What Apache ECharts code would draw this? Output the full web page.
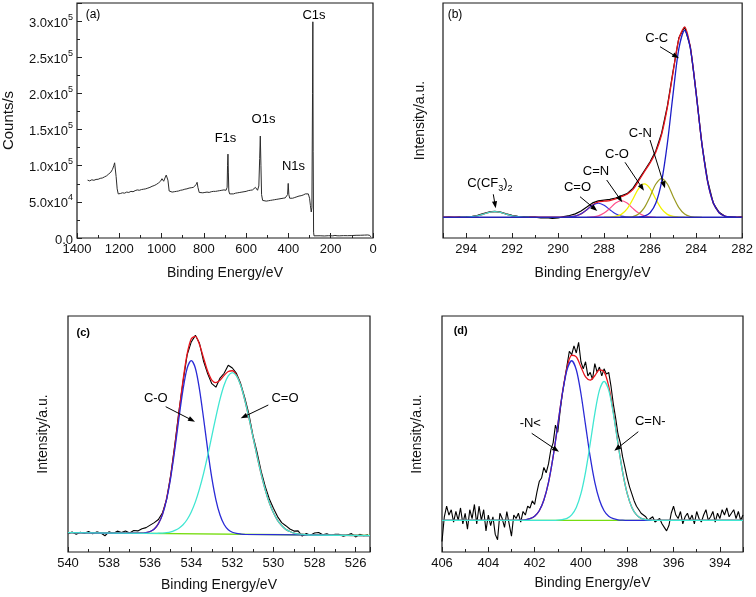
<!DOCTYPE html>
<html><head><meta charset="utf-8">
<script src="https://cdn.jsdelivr.net/npm/echarts@6/dist/echarts.min.js"></script>
<style>html,body{margin:0;padding:0;background:#fff}#chart{width:756px;height:597px}</style>
</head><body><div id="chart"></div>
<script>
// ---------- (a) survey spectrum ----------
const surveyEnergy = [1350,1340,1330,1320,1310,1300,1290,1280,1270,1260,1250,1240,1232,1226,1222,1219,1215,1210,1205,1195,1185,1175,1165,1155,1145,1135,1125,1115,1105,1095,1085,1075,1065,1055,1045,1035,1025,1015,1005,998,994,990,984,978,974,970,964,958,950,940,930,920,910,900,890,880,870,860,850,842,836,832,828,822,815,805,795,785,775,765,755,745,735,725,715,705,695,690,688,686,684,682,678,670,660,650,640,630,620,610,600,590,580,570,562,556,552,546,540,536,533,530,527,522,515,505,495,485,475,465,455,445,435,425,415,408,404,401,398,394,388,380,370,360,350,340,330,320,312,306,300,296,292,289,286,284.5,283,281,279,270,250,230,210,190,180,170,160,140,120,100,80,60,40,25,15,10];
const surveyCounts = [80000,79000,80500,79800,81000,81200,82500,83000,84500,86000,88500,91000,95000,100000,104000,103000,85000,68000,61000,61500,62500,62000,63500,63000,64500,64000,65500,66500,66000,67000,67500,68000,69000,70000,71500,72500,74000,76000,78500,82000,79500,78500,83000,87000,88000,80000,65000,63000,63500,64000,64500,65000,66000,66500,67500,68000,69000,69500,70000,71000,74000,77000,70000,63000,62000,62500,63000,63500,63000,64000,64500,64500,65000,65500,66000,66500,66000,70000,100000,116000,90000,65000,61000,60500,61000,62000,62500,63000,63500,64000,64500,65500,66000,66500,68000,70000,68000,66000,72000,110000,141000,100000,60000,52000,51500,51000,51500,52000,52500,53000,53500,54000,54500,55000,55500,56000,60000,75500,60000,55000,54500,55000,56000,57000,58000,58500,59500,61000,62000,61000,55000,45000,36000,42000,200000,299000,120000,8000,3000,2900,3100,2800,3200,3000,3600,3100,3000,3300,3200,3400,3700,3800,4000,4200,3600,1500];
const surveyYTicks = [0,50000,100000,150000,200000,250000,300000];
const surveyYLabels = ['0.0','5.0x10^4','1.0x10^5','1.5x10^5','2.0x10^5','2.5x10^5','3.0x10^5'];

// ---------- (b) C1s ----------
const c1sEnergy = [295,294.75,294.5,294.25,294,293.75,293.5,293.25,293,292.75,292.5,292.25,292,291.75,291.5,291.25,291,290.75,290.5,290.25,290,289.75,289.5,289.25,289,288.75,288.5,288.25,288,287.75,287.5,287.25,287,286.75,286.5,286.25,286,285.75,285.5,285.25,285,284.75,284.5,284.25,284,283.75,283.5,283.25,283,282.75,282.5,282.25,282];
const c1sRaw = [0,0.1,-0.1,0.1,0.2,0.4,1.0,1.9,2.8,3.1,2.7,1.8,1.0,0.5,0.4,0.2,0.1,-0.3,-0.2,-0.6,-0.4,0.3,0.9,1.8,3.3,5.4,7.6,8.7,9.1,9.5,10.2,11.4,12.5,15.3,19.9,24.6,29.4,35.2,44.5,58.9,77.6,95.1,100.8,90.3,66.2,38.6,19.3,7.2,2.6,0.5,0.2,-0.1,0.2];
const c1sEnvelope = [0,0,0,0,0.1,0.3,0.7,1.6,2.6,3.0,2.6,1.6,0.7,0.3,0.1,0,0,0,0,0,0,0,0.2,0.6,1.8,4.0,6.5,8.1,8.5,8.8,9.7,10.9,12.2,14.6,19.2,24.1,28.8,34.6,43.8,58.2,76.9,94.5,100.7,89.7,65.6,39.1,18.9,7.5,2.4,0.6,0.1,0,0];
const ccEnergy = [286.75,286.5,286.25,286,285.75,285.5,285.25,285,284.75,284.5,284.25,284,283.75,283.5,283.25,283,282.75,282.5,282.25];
const ccValues = [0,0.1,0.6,2.4,7.5,18.9,39.1,65.5,89.3,99,89.3,65.5,39.1,18.9,7.5,2.4,0.6,0.1,0];
const cnEnergy = [287.25,287,286.75,286.5,286.25,286,285.75,285.5,285.25,285,284.75,284.5,284.25,284,283.75];
const cnValues = [0,0.1,0.4,1.7,5.1,11.0,17.6,20.5,17.6,11.0,5.1,1.7,0.4,0.1,0];
const coEnergy = [288,287.75,287.5,287.25,287,286.75,286.5,286.25,286,285.75,285.5,285.25,285,284.75,284.5];
const coValues = [0,0.1,0.4,1.5,4.4,9.5,15.2,17.7,15.2,9.5,4.4,1.5,0.4,0.1,0];
const cdnEnergy = [288.75,288.5,288.25,288,287.75,287.5,287.25,287,286.75,286.5,286.25,286,285.75];
const cdnValues = [0,0.2,0.7,2.2,4.7,7.5,8.8,7.5,4.7,2.2,0.7,0.2,0];
const cdoEnergy = [289.75,289.5,289.25,289,288.75,288.5,288.25,288,287.75,287.5,287.25,287,286.75];
const cdoValues = [0,0.2,0.6,1.8,4.0,6.3,7.4,6.3,4.0,1.8,0.6,0.2,0];
const cf3Energy = [294.25,294,293.75,293.5,293.25,293,292.75,292.5,292.25,292,291.75,291.5,291.25];
const cf3Values = [0,0.1,0.3,0.7,1.6,2.6,3.0,2.6,1.6,0.7,0.3,0.1,0];
const c1sBaseEnergy = [295,282];
const c1sBaseValues = [0,0];

// ---------- (c) O1s ----------
const o1sEnergy = [540,539.8,539.6,539.4,539.2,539,538.8,538.6,538.4,538.2,538,537.8,537.6,537.4,537.2,537,536.8,536.6,536.4,536.2,536,535.8,535.6,535.4,535.2,535,534.8,534.6,534.4,534.2,534,533.8,533.6,533.4,533.2,533,532.8,532.6,532.4,532.2,532,531.8,531.6,531.4,531.2,531,530.8,530.6,530.4,530.2,530,529.8,529.6,529.4,529.2,529,528.8,528.6,528.4,528.2,528,527.8,527.6,527.4,527.2,527,526.8,526.6,526.4,526.2,526,525.8,525.6,525.4];
const o1sRaw = [-0.5,0.3,-0.8,0.2,-0.3,0.6,-0.6,0.4,-0.2,-1.6,0.5,-0.4,0.8,0.1,0.9,-0.2,1.1,0.9,2.0,2.6,3.9,5.2,6.8,10.3,17.2,29.8,45.5,62.9,78.1,91.9,98.6,102.0,97.9,88.6,82.1,77.0,75.2,79.9,82.4,86.5,85.1,82.3,77.2,69.9,61.5,50.3,41.6,31.8,23.9,17.4,12.6,8.3,5.2,3.6,1.9,0.8,0.9,-1.8,-0.4,-1.3,-0.2,0.1,-1.1,-0.6,-1.5,-0.8,-0.9,-1.9,-1.2,-0.5,-2.2,-0.9,-1.6,-1.1];
const o1sEnvEnergy = [540,536.6,536.4,536.2,536,535.8,535.6,535.4,535.2,535,534.8,534.6,534.4,534.2,534,533.8,533.6,533.4,533.2,533,532.8,532.6,532.4,532.2,532,531.8,531.6,531.4,531.2,531,530.8,530.6,530.4,530.2,530,529.8,529.6,529.4,529.2,529,528.8,528.6,528.4,528.2,525.3];
const o1sEnvelope = [0,-0.3,-0.3,0.0,0.6,1.9,4.7,9.6,17.7,29.4,44.7,62.0,78.8,92.4,100.2,101.5,97.3,90.3,83.4,78.9,77.6,78.8,81.3,83.3,83.7,81.4,76.4,68.8,59.7,49.7,39.7,30.4,22.2,15.5,10.3,6.4,3.7,1.7,0.6,-0.2,-0.6,-0.8,-1.1,-1.2,-1.5];
const o1sCOEnergy = [540,536.6,536.4,536.2,536,535.8,535.6,535.4,535.2,535,534.8,534.6,534.4,534.2,534,533.8,533.6,533.4,533.2,533,532.8,532.6,532.4,532.2,532,531.8,531.6,531.4,525.3];
const o1sCOValues = [0,-0.3,-0.3,0.0,0.6,1.9,4.6,9.3,17.2,28.5,43.0,59.2,74.1,85.0,88.9,85.0,74.1,59.0,42.8,28.3,17.0,9.1,4.2,1.5,0.2,-0.4,-0.7,-0.9,-1.5];
const o1sCdOEnergy = [540,535.8,535.6,535.4,535.2,535,534.8,534.6,534.4,534.2,534,533.8,533.6,533.4,533.2,533,532.8,532.6,532.4,532.2,532,531.8,531.6,531.4,531.2,531,530.8,530.6,530.4,530.2,530,529.8,529.6,529.4,529.2,529,528.8,528.6,528.4,528.2,525.3];
const o1sCdOValues = [0,-0.4,-0.3,-0.2,0.0,0.4,1.2,2.3,4.1,6.8,10.7,15.9,22.6,30.6,39.9,49.9,59.9,69.0,76.3,81.0,82.7,81.0,76.3,68.8,59.7,49.7,39.7,30.4,22.2,15.5,10.3,6.4,3.7,1.7,0.6,-0.2,-0.6,-0.8,-1.1,-1.2,-1.5];
const o1sBaseEnergy = [540,525.3];
const o1sBaseValues = [0,-1.47];

// ---------- (d) N1s ----------
const n1sEnergy = [406,405.9,405.8,405.7,405.6,405.5,405.4,405.3,405.2,405.1,405,404.9,404.8,404.7,404.6,404.5,404.4,404.3,404.2,404.1,404,403.9,403.8,403.7,403.6,403.5,403.4,403.3,403.2,403.1,403,402.9,402.8,402.7,402.6,402.5,402.4,402.3,402.2,402.1,402,401.9,401.8,401.7,401.6,401.5,401.4,401.3,401.2,401.1,401,400.9,400.8,400.7,400.6,400.5,400.4,400.3,400.2,400.1,400,399.9,399.8,399.7,399.6,399.5,399.4,399.3,399.2,399.1,399,398.9,398.8,398.7,398.6,398.5,398.4,398.3,398.2,398.1,398,397.9,397.8,397.7,397.6,397.5,397.4,397.3,397.2,397.1,397,396.9,396.8,396.7,396.6,396.5,396.4,396.3,396.2,396.1,396,395.9,395.8,395.7,395.6,395.5,395.4,395.3,395.2,395.1,395,394.9,394.8,394.7,394.6,394.5,394.4,394.3,394.2,394.1,394,393.9,393.8,393.7,393.6,393.5,393.4,393.3,393.2,393.1,393];
const n1sRaw = [-12,2,8,3,6,-1,5,0,7,-2,4,-5,6,1,9,-2,8,0,6,-6,3,-3,2,-8,-11,4,1,-4,5,-2,-9,3,1,4,-1,5,3,8,7,11,9,16,22,24,30,27,32,40,44,54,50,62,72,80,88,96,94,99,95,101,90,86,90,82,84,80,89,84,87,82,86,83,84,76,66,58,49,44,36,30,24,19,15,11,8,6,4,3,2,0,1,2,-1,0,1,-2,-4,-6,-3,4,8,3,1,5,-2,2,4,0,3,-2,5,1,-1,3,6,0,2,5,-1,4,1,6,3,7,2,4,6,1,5,0,3];
const n1sEnvEnergy = [406,402.8,402.6,402.4,402.2,402,401.8,401.6,401.4,401.2,401,400.8,400.6,400.4,400.2,400,399.8,399.6,399.4,399.2,399,398.8,398.6,398.4,398.2,398,397.8,397.6,397.4,397.2,397,396.8,393];
const n1sEnvelope = [0,0,0.1,0.3,0.9,2.3,5.4,11.5,21.5,36.1,54.1,72.4,86.6,93.7,92.8,87.1,81.4,79.6,82.1,85.4,84.3,76.2,61.5,43.8,27.5,15.1,7.3,3.1,1.1,0.4,0.1,0,0];
const n1sNEnergy = [406,402.8,402.6,402.4,402.2,402,401.8,401.6,401.4,401.2,401,400.8,400.6,400.4,400.2,400,399.8,399.6,399.4,399.2,399,398.8,398.6,398.4,398.2,398,393];
const n1sNValues = [0,0,0.1,0.3,0.9,2.3,5.4,11.5,21.5,36.1,54.0,72.0,85.5,90.6,85.5,72.0,54.0,36.1,21.5,11.5,5.4,2.3,0.9,0.3,0.1,0,0];
const n1sCNEnergy = [406,401.2,401,400.8,400.6,400.4,400.2,400,399.8,399.6,399.4,399.2,399,398.8,398.6,398.4,398.2,398,397.8,397.6,397.4,397.2,397,396.8,393];
const n1sCNValues = [0,0,0.1,0.4,1.1,3.1,7.3,15.1,27.4,43.5,60.6,73.9,78.9,73.9,60.6,43.5,27.4,15.1,7.3,3.1,1.1,0.4,0.1,0,0];
const n1sBaseEnergy = [406,393];
const n1sBaseValues = [0,0];

// ---------- helpers ----------
const FONT = '"Liberation Sans", Arial, Helvetica, sans-serif';
const zip = (xs, ys) => xs.map((x, i) => [x, ys[i]]);
function evenLabel(v){ const r = Math.round(v); return (Math.abs(v - r) < 1e-6 && r % 2 === 0) ? String(r) : ''; }

function xAxisCfg(gridIndex, min, max, extra){
  return Object.assign({
    type:'value', gridIndex, min, max, inverse:true,
    name:'Binding Energy/eV', nameLocation:'middle', nameGap:28,
    nameTextStyle:{fontFamily:FONT, fontSize:14, color:'#111'},
    axisLine:{show:false, onZero:false}, splitLine:{show:false},
    axisTick:{show:true, inside:true, length:5, lineStyle:{color:'#222', width:1}},
    minorTick:{show:true, splitNumber:2, length:3, lineStyle:{color:'#222', width:1}},
    axisLabel:{fontFamily:FONT, fontSize:13, color:'#111', margin:5, formatter:evenLabel}
  }, extra || {});
}
function yAxisPlain(gridIndex, min, max, gap){
  return {
    type:'value', gridIndex, min, max,
    name:'Intensity/a.u.', nameLocation:'middle', nameRotate:90, nameGap:gap,
    nameTextStyle:{fontFamily:FONT, fontSize:14, color:'#111'},
    axisLine:{show:false, onZero:false}, axisTick:{show:false}, axisLabel:{show:false}, splitLine:{show:false}
  };
}
function line(xi, xs, ys, color, width, smooth, z){
  return {type:'line', xAxisIndex:xi, yAxisIndex:xi, data:zip(xs, ys), symbol:'none',
    smooth: smooth || false, lineStyle:{color, width}, z: z || 2, silent:true, animation:false};
}
function arrow(x1,y1,x2,y2){
  const dx=x2-x1, dy=y2-y1, L=Math.hypot(dx,dy), ux=dx/L, uy=dy/L;
  const hl=7, hw=2.6, bx=x2-ux*hl, by=y2-uy*hl;
  return [
    {type:'line', shape:{x1, y1, x2:bx+ux*1, y2:by+uy*1}, style:{stroke:'#000', lineWidth:1}, silent:true, z:100},
    {type:'polygon', shape:{points:[[x2,y2],[bx-uy*hw,by+ux*hw],[bx+uy*hw,by-ux*hw]]}, style:{fill:'#000'}, silent:true, z:100}
  ];
}
function txt(text, x, y, size, weight, rich){
  return {type:'text', x, y, silent:true, z:100,
    style:{text, fill:'#000', font:(weight||'normal') + ' ' + size + 'px ' + FONT, textAlign:'center', textVerticalAlign:'middle', rich}};
}

const gridBase = {show:true, borderColor:'#1a1a1a', borderWidth:1.2, containLabel:false};

const option = {
  animation:false,
  backgroundColor:'#fff',
  grid:[
    Object.assign({left:75, top:3, width:298, height:235}, gridBase),
    Object.assign({left:443, top:3, width:300, height:235}, gridBase),
    Object.assign({left:68, top:316, width:302, height:236}, gridBase),
    Object.assign({left:442, top:316, width:301, height:236}, gridBase)
  ],
  xAxis:[
    xAxisCfg(0, 0, 1400, {interval:200, axisLabel:{fontFamily:FONT, fontSize:13, color:'#111', margin:5,
      formatter:v => (v % 200 === 0 ? String(v) : '')}}),
    xAxisCfg(1, 282, 295, {interval:2}),
    xAxisCfg(2, 525.3, 540, {minInterval:2, maxInterval:2, splitNumber:7, nameGap:26}),
    xAxisCfg(3, 393, 406, {minInterval:2, maxInterval:2, splitNumber:6, nameGap:24})
  ],
  yAxis:[
    {type:'value', gridIndex:0, min:0, max:325000, interval:50000,
      name:'Counts/s', nameLocation:'middle', nameRotate:90, nameGap:61,
      nameTextStyle:{fontFamily:FONT, fontSize:15, color:'#111'},
      axisLine:{show:false, onZero:false}, splitLine:{show:false},
      axisTick:{show:true, inside:true, length:5, lineStyle:{color:'#222'}},
      minorTick:{show:true, splitNumber:2, length:3, lineStyle:{color:'#222'}},
      axisLabel:{margin:4, color:'#111', fontFamily:FONT,
        formatter:function(v){
          const i = surveyYTicks.indexOf(v);
          if (i < 0) return '';
          const parts = surveyYLabels[i].split('^');
          if (parts.length === 1) return '{m|' + parts[0] + '}';
          return '{m|' + parts[0] + '}{e|' + parts[1] + '}';
        },
        rich:{
          m:{fontFamily:FONT, fontSize:13, color:'#111', lineHeight:17, verticalAlign:'bottom'},
          e:{fontFamily:FONT, fontSize:9, color:'#111', lineHeight:9, verticalAlign:'top'}
        }}},
    yAxisPlain(1, -11, 113.5, 16),
    yAxisPlain(2, -10, 112, 18),
    yAxisPlain(3, -18, 116, 18)
  ],
  series:[
    line(0, surveyEnergy, surveyCounts, '#2b2b2b', 1),
    // (b)
    line(1, c1sEnergy, c1sRaw, '#000000', 1.2),
    line(1, c1sEnergy, c1sEnvelope, '#e8141c', 1.3, 0.3),
    line(1, cf3Energy, cf3Values, '#3fe0d0', 1.3, 0.3),
    line(1, cdoEnergy, cdoValues, '#3030dd', 1.2, 0.3),
    line(1, cdnEnergy, cdnValues, '#ff4f8a', 1.2, 0.3),
    line(1, coEnergy, coValues, '#f2f200', 1.3, 0.3),
    line(1, cnEnergy, cnValues, '#9a9a22', 1.2, 0.3),
    line(1, ccEnergy, ccValues, '#1c1cc8', 1.3, 0.3),
    line(1, c1sBaseEnergy, c1sBaseValues, '#2424b8', 1.6),
    // (c)
    line(2, o1sEnergy, o1sRaw, '#000000', 1.1),
    line(2, o1sBaseEnergy, o1sBaseValues, '#77dd11', 1.3),
    line(2, o1sEnvEnergy, o1sEnvelope, '#e8141c', 1.3, 0.3),
    line(2, o1sCOEnergy, o1sCOValues, '#2a2ad6', 1.3, 0.3),
    line(2, o1sCdOEnergy, o1sCdOValues, '#40e6d2', 1.3, 0.3),
    // (d)
    line(3, n1sEnergy, n1sRaw, '#000000', 1.1),
    line(3, n1sBaseEnergy, n1sBaseValues, '#77dd11', 1.3),
    line(3, n1sEnvEnergy, n1sEnvelope, '#e8141c', 1.3, 0.3),
    line(3, n1sNEnergy, n1sNValues, '#2a2ad6', 1.3, 0.3),
    line(3, n1sCNEnergy, n1sCNValues, '#40e6d2', 1.3, 0.3)
  ],
  graphic:[
    txt('(a)', 93, 15, 12),
    txt('C1s', 314, 15, 13), txt('O1s', 263.5, 119, 13), txt('F1s', 225.5, 138, 13), txt('N1s', 293.5, 166, 13),
    txt('(b)', 455, 15, 12),
    txt('C-C', 656.7, 38.3, 13), txt('C-N', 640.3, 133.3, 13), txt('C-O', 617, 154, 13),
    txt('C=N', 596, 171.7, 13), txt('C=O', 577.5, 187.3, 13),
    txt('{n|C(CF}{s|3}{n|)}{s|2}{x| }', 490, 185, 13, 'normal', {
      n:{fontFamily:FONT, fontSize:13, lineHeight:13, verticalAlign:'top'},
      s:{fontFamily:FONT, fontSize:9, lineHeight:9, verticalAlign:'bottom'},
      x:{fontSize:1, lineHeight:17}
    }),
    ...arrow(660, 46.7, 679, 58.3), ...arrow(650, 140, 665, 188.3), ...arrow(625, 162.3, 644, 190.7),
    ...arrow(606.7, 180, 622.3, 202.3), ...arrow(580, 196.7, 597.3, 211), ...arrow(493.3, 194.3, 495.7, 208.3),
    txt('(c)', 83.3, 333.3, 11, 'bold'),
    txt('C-O', 155.8, 398.3, 13), txt('C=O', 285, 398.3, 13),
    ...arrow(165.7, 406.7, 195, 421.7), ...arrow(268.3, 405, 240.7, 418.3),
    txt('(d)', 460.7, 331, 11, 'bold'),
    txt('-N<', 530.3, 423.3, 13), txt('C=N-', 650.3, 421.7, 13),
    ...arrow(531.7, 433.3, 559, 451.7), ...arrow(638.3, 431.7, 614.3, 450.7)
  ]
};

const chart = echarts.init(document.getElementById('chart'), null, {renderer:'canvas'});
chart.setOption(option);
</script></body></html>
